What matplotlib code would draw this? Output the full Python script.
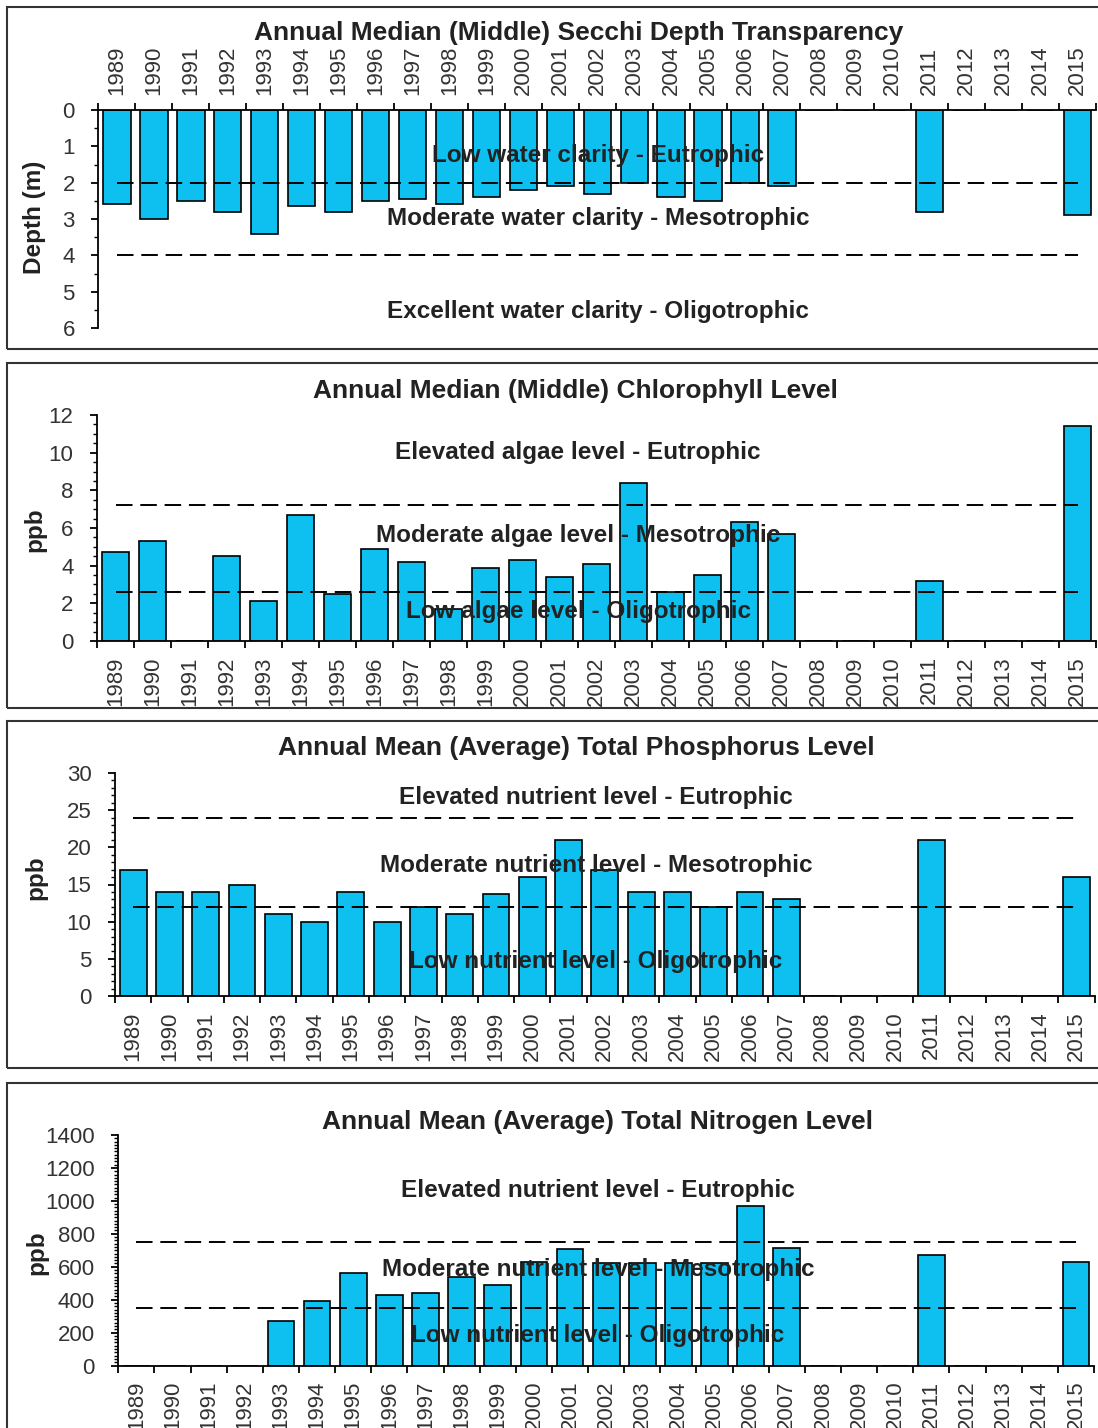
import numpy as np
import matplotlib
matplotlib.use('Agg')
import matplotlib.pyplot as plt
import matplotlib.transforms as mtransforms
from matplotlib.patches import Rectangle
from matplotlib.ticker import MultipleLocator, FixedLocator

plt.rcParams['font.family'] = ['Liberation Sans', 'DejaVu Sans']

nan = np.nan
years = list(range(1989, 2016))

# yearly values, nan where the lake was not sampled
secchi = [2.6, 3.0, 2.5, 2.8, 3.4, 2.65, 2.8, 2.5, 2.45, 2.6, 2.4, 2.2, 2.1,
          2.3, 2.0, 2.4, 2.5, 2.0, 2.1, nan, nan, nan, 2.8, nan, nan, nan, 2.9]
chlorophyll = [4.7, 5.3, nan, 4.5, 2.1, 6.7, 2.5, 4.9, 4.2, 1.7, 3.9, 4.3, 3.4,
               4.1, 8.4, 2.6, 3.5, 6.3, 5.7, nan, nan, nan, 3.2, nan, nan, nan, 11.4]
phosphorus = [17, 14, 14, 15, 11, 10, 14, 10, 12, 11, 13.7, 16, 21,
              17, 14, 14, 12, 14, 13, nan, nan, nan, 21, nan, nan, nan, 16]
nitrogen = [nan, nan, nan, nan, 270, 390, 560, 430, 440, 540, 490, 630, 705,
            620, 620, 620, 620, 970, 715, nan, nan, nan, 670, nan, nan, nan, 630]

# trophic thresholds (dashed lines)
secchi_limits = [2, 4]
chlorophyll_limits = [2.6, 7.2]
phosphorus_limits = [12, 24]
nitrogen_limits = [350, 750]

secchi_zones = ['Low water clarity - Eutrophic',
                'Moderate water clarity - Mesotrophic',
                'Excellent water clarity - Oligotrophic']
chlorophyll_zones = ['Elevated algae level - Eutrophic',
                     'Moderate algae level - Mesotrophic',
                     'Low algae level - Oligotrophic']
nutrient_zones = ['Elevated nutrient level - Eutrophic',
                  'Moderate nutrient level - Mesotrophic',
                  'Low nutrient level - Oligotrophic']

W, H = 1098, 1428
BAR = '#0ec0f0'
INK = '#222222'

fig = plt.figure(figsize=(W / 100, H / 100), dpi=100)


def px_rect(left, top, right, bottom):
    return [left / W, 1 - bottom / H, (right - left) / W, (bottom - top) / H]


panels = [
    dict(values=secchi, limits=secchi_limits, zones=secchi_zones,
         zone_y=[1.25, 3.0, 5.55], zone_x=598,
         rect=(98.5, 110, 1096, 328), ylim=(6, 0), major=1, minor=0.5,
         title='Annual Median (Middle) Secchi Depth Transparency', title_xy=(579, 33),
         ylabel='Depth (m)', ylabel_xy=(35, 217), top=True),
    dict(values=chlorophyll, limits=chlorophyll_limits, zones=chlorophyll_zones,
         zone_y=[10.0, 5.6, 1.55], zone_x=578,
         rect=(97, 415, 1096, 641), ylim=(0, 12), major=2, minor=0.5,
         title='Annual Median (Middle) Chlorophyll Level', title_xy=(575, 391),
         ylabel='ppb', ylabel_xy=(35, 530), top=False),
    dict(values=phosphorus, limits=phosphorus_limits, zones=nutrient_zones,
         zone_y=[26.7, 17.5, 4.6], zone_x=596,
         rect=(115, 773, 1094.7, 996), ylim=(0, 30), major=5, minor=1,
         title='Annual Mean (Average) Total Phosphorus Level', title_xy=(576, 748),
         ylabel='ppb', ylabel_xy=(36, 878), top=False),
    dict(values=nitrogen, limits=nitrogen_limits, zones=nutrient_zones,
         zone_y=[1060, 585, 183], zone_x=598,
         rect=(118.3, 1135, 1094, 1365.5), ylim=(0, 1400), major=200, minor=20,
         title='Annual Mean (Average) Total Nitrogen Level', title_xy=(597, 1122),
         ylabel='ppb', ylabel_xy=(37, 1253), top=False),
]

# panel frames
frames = [(7, 7, 349), (7, 363, 708), (7, 721, 1068), (7, 1083, 1440)]
for x0, y0, y1 in frames:
    fig.patches.append(Rectangle((x0 / W, 1 - y1 / H), (1120 - x0) / W, (y1 - y0) / H,
                                 transform=fig.transFigure, fill=False,
                                 edgecolor='#333333', linewidth=1.5))

x = np.arange(len(years))
for p in panels:
    ax = fig.add_axes(px_rect(*p['rect']))
    ax.set_facecolor('none')
    vals = np.array(p['values'], dtype=float)
    ax.bar(x, np.nan_to_num(vals), width=0.74, color=BAR, edgecolor='black',
           linewidth=1.2, zorder=2)
    for lim in p['limits']:
        ax.plot([0, len(years) - 1], [lim, lim], color='black', linewidth=1.4,
                linestyle=(0, (8.5, 4)), zorder=3)
    ax.set_xlim(-0.5, len(years) - 0.5)
    ax.set_ylim(*p['ylim'])

    ax.yaxis.set_major_locator(MultipleLocator(p['major']))
    ax.yaxis.set_minor_locator(MultipleLocator(p['minor']))
    ax.xaxis.set_major_locator(FixedLocator(x))
    ax.xaxis.set_minor_locator(FixedLocator(np.arange(len(years) + 1) - 0.5))
    ax.set_xticklabels([str(y) for y in years], rotation=90, fontsize=16, color='#333333')
    ax.tick_params(axis='x', which='major', length=0, pad=11)
    ax.tick_params(axis='x', which='minor', length=5, width=1.3, direction='out')
    ax.tick_params(axis='y', which='major', length=5, width=1.3, pad=12,
                   labelsize=16, labelcolor='#333333')
    ax.tick_params(axis='y', which='minor', length=3, width=1.0)

    ax.spines['right'].set_visible(False)
    if p['top']:
        ax.xaxis.set_ticks_position('top')
        ax.xaxis.set_label_position('top')
        ax.spines['bottom'].set_visible(False)
    else:
        ax.spines['top'].set_visible(False)
    for side in ['left', 'top', 'bottom']:
        ax.spines[side].set_linewidth(1.3)

    # zone labels centred across the chart
    tr = mtransforms.blended_transform_factory(fig.transFigure, ax.transData)
    for label, zy in zip(p['zones'], p['zone_y']):
        ax.text(p['zone_x'] / W, zy, label, transform=tr, ha='center', va='center',
                fontsize=17.5, fontweight='bold', color=INK, zorder=4)

    fig.text(p['title_xy'][0] / W, 1 - p['title_xy'][1] / H, p['title'],
             ha='center', va='center', fontsize=19, fontweight='bold', color=INK)
    fig.text(p['ylabel_xy'][0] / W, 1 - p['ylabel_xy'][1] / H, p['ylabel'],
             ha='center', va='center', rotation=90, fontsize=17.5, fontweight='bold',
             color=INK)

fig.savefig('out.png', dpi=100)
